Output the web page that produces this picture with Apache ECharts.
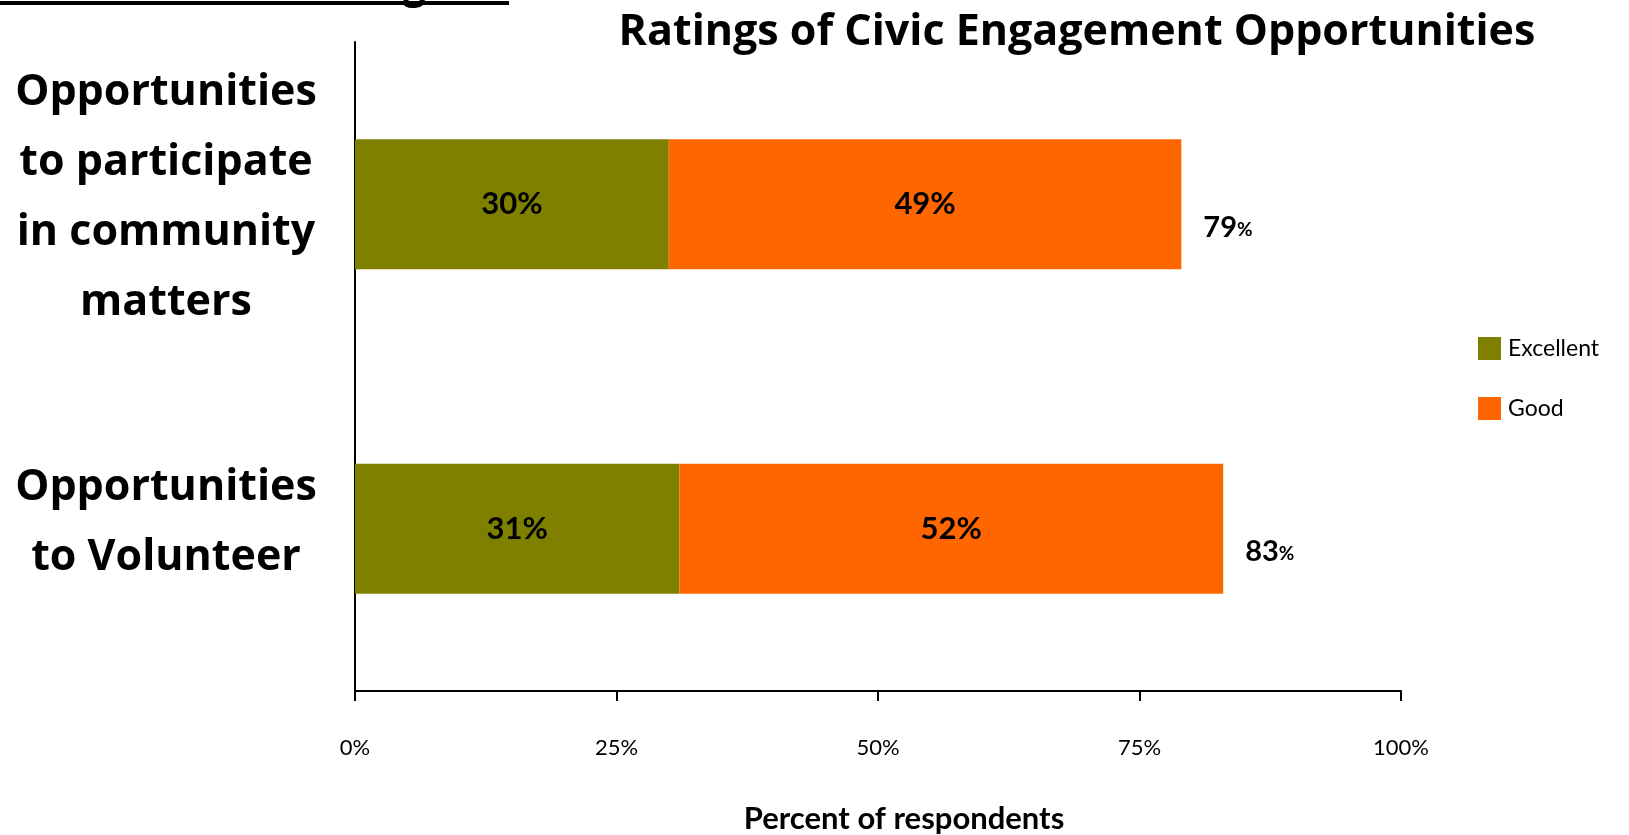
<!DOCTYPE html>
<html><head><meta charset="utf-8">
<script src="https://cdn.jsdelivr.net/npm/echarts@6/dist/echarts.min.js"></script>
<style>html,body{margin:0;padding:0;background:#fff}#c{width:1629px;height:835px}</style>
</head><body><div id="c"></div>
<script>
const categories = ["Opportunities\nto participate\nin community\nmatters", "Opportunities\nto Volunteer"];
const excellent = [30, 31];
const good = [49, 52];
const totals = [79, 83];
const xTicks = [0, 25, 50, 75, 100];

const FONT = 'Lato';
const BOLD = 'Open Sans';
const chart = echarts.init(document.getElementById('c'));
chart.setOption({
  animation: false,
  backgroundColor: '#fff',
  title: {
    text: 'Ratings of Civic Engagement Opportunities',
    left: 1072, top: 6, textAlign: 'center',
    textStyle: { fontFamily: BOLD, fontWeight: 'bold', fontSize: 43, color: '#000' }
  },
  legend: {
    orient: 'vertical', left: 1473, top: 332, itemGap: 37,
    itemWidth: 23, itemHeight: 23, icon: 'rect',
    data: ['Excellent', 'Good'],
    textStyle: { fontFamily: FONT, fontSize: 23, color: '#000', padding: [0, 0, 0, 2] }
  },
  graphic: [
    { type: 'text', left: 403, top: -32, style: { text: 'g', fontFamily: BOLD, fontWeight: 'bold', fontSize: 40, fill: '#000' } },
    { type: 'line', shape: { x1: 0, y1: 3, x2: 509, y2: 3 }, style: { stroke: '#000', lineWidth: 4 } }
  ],
  grid: { left: 355, right: 228, top: 42, bottom: 144, containLabel: false, outerBoundsMode: 'none' },
  xAxis: {
    type: 'value', min: 0, max: 100, interval: 25,
    name: 'Percent of respondents', nameLocation: 'middle', nameGap: 112,
    nameTextStyle: { fontFamily: FONT, fontWeight: 'bold', fontSize: 31, color: '#000', padding: [0, 0, 0, 52] },
    axisLine: { show: true, lineStyle: { color: '#000', width: 2 } },
    axisTick: { show: true, inside: false, length: 10, lineStyle: { color: '#000', width: 2 } },
    axisLabel: { margin: 46, fontFamily: FONT, fontSize: 22, color: '#000', formatter: v => xTicks.includes(v) ? v + '%' : '' },
    splitLine: { show: false }
  },
  yAxis: {
    type: 'category', data: categories, inverse: true,
    axisLine: { show: true, lineStyle: { color: '#000', width: 2 } },
    axisTick: { show: false },
    axisLabel: { margin: 189, align: 'center', color: '#000',
      formatter: v => v.split('\n').map(l => '{a|' + l + '}').join('\n') + '\n{s|}',
      rich: {
        a: { fontFamily: BOLD, fontWeight: 'bold', fontSize: 43, lineHeight: 70, color: '#000', align: 'center' },
        s: { fontSize: 1, lineHeight: 13 }
      } }
  },
  series: [
    { name: 'Excellent', type: 'bar', stack: 's', barWidth: '40%', data: excellent,
      itemStyle: { color: '#808000' },
      label: { show: true, position: 'inside', formatter: '{c}%', fontFamily: FONT, fontWeight: 'bold', fontSize: 31, color: '#000' } },
    { name: 'Good', type: 'bar', stack: 's', barWidth: '40%', data: good,
      itemStyle: { color: '#FF6600' },
      label: { show: true, position: 'inside', formatter: '{c}%', fontFamily: FONT, fontWeight: 'bold', fontSize: 31, color: '#000' } },
    { name: 'Total', type: 'scatter', symbolSize: 0, silent: true,
      itemStyle: { opacity: 1 },
      data: totals.map((t, i) => [t, categories[i]]),
      label: { show: true, position: 'right', distance: 22, offset: [0, 23], color: '#000', opacity: 1,
        formatter: p => '{n|' + p.value[0] + '}{p|%}',
        rich: { n: { fontFamily: FONT, fontWeight: 'bold', fontSize: 29, color: '#000' },
                p: { fontFamily: FONT, fontWeight: 'bold', fontSize: 19, color: '#000', padding: [5, 0, 0, 0] } } } }
  ]
});
</script></body></html>
